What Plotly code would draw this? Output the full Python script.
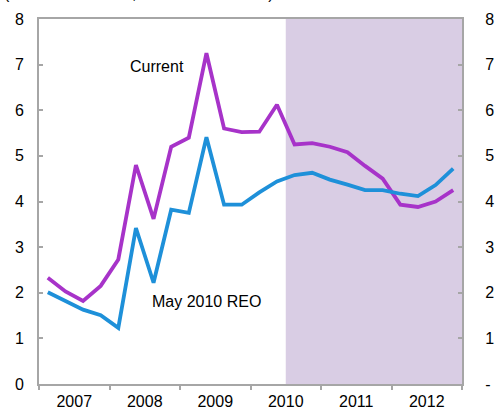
import plotly.graph_objects as go

quarters = [f"{y}Q{q}" for y in range(2007, 2013) for q in range(1, 5)]
years = ["2007", "2008", "2009", "2010", "2011", "2012"]
current = [2.33, 2.03, 1.82, 2.15, 2.73, 4.8, 3.62, 5.2, 5.4, 7.25, 5.6, 5.52,
           5.53, 6.12, 5.25, 5.28, 5.2, 5.08, 4.78, 4.5, 3.93, 3.88, 4.0, 4.25]
reo = [2.01, 1.83, 1.63, 1.51, 1.23, 3.42, 2.22, 3.82, 3.75, 5.41, 3.93, 3.93,
       4.2, 4.44, 4.58, 4.63, 4.48, 4.37, 4.25, 4.25, 4.17, 4.12, 4.36, 4.72]
ytick_vals = [0, 1, 2, 3, 4, 5, 6, 7, 8]
right_labels = ["-", "1", "2", "3", "4", "5", "6", "7", "8"]

x = list(range(len(quarters)))
FONT = "Liberation Sans, Arial, sans-serif"
AX = "#A6A6A6"

fig = go.Figure()
fig.add_trace(go.Scatter(x=x, y=current, mode="lines", name="Current",
                         line=dict(color="#A733C9", width=3.8), hovertext=quarters))
fig.add_trace(go.Scatter(x=x, y=reo, mode="lines", name="May 2010 REO",
                         line=dict(color="#1E90D9", width=3.8), hovertext=quarters))
fig.add_trace(go.Scatter(x=[0], y=[0], yaxis="y2", mode="lines", showlegend=False,
                         line=dict(width=0), hoverinfo="skip", opacity=0))

fig.add_shape(type="rect", xref="x", yref="paper", x0=13.5, x1=23.5, y0=0, y1=1,
              fillcolor="#D9CDE4", line=dict(width=0), layer="below")

fig.update_layout(
    width=495, height=409,
    margin=dict(l=39, r=33, t=19, b=25, autoexpand=False),
    paper_bgcolor="white", plot_bgcolor="white",
    showlegend=False,
    font=dict(family=FONT, size=16, color="black"),
    xaxis=dict(range=[-0.5, 23.5], tickvals=[1.5, 5.5, 9.5, 13.5, 17.5, 21.5],
               ticktext=years, ticks="", showgrid=False, zeroline=False,
               showline=True, linecolor=AX, linewidth=2, mirror=True,
               automargin=False,
               minor=dict(tick0=-0.5, dtick=4, ticks="outside", ticklen=4,
                          tickcolor=AX, tickwidth=2, showgrid=False),
               tickfont=dict(size=16), ticklabelstandoff=2),
    yaxis=dict(range=[0, 8], tickvals=ytick_vals, ticks="inside", ticklen=4,
               tickcolor=AX, tickwidth=2, showgrid=False, zeroline=False,
               showline=True, linecolor=AX, linewidth=2, automargin=False,
               tickfont=dict(size=16), ticklabelstandoff=10),
    yaxis2=dict(range=[0, 8], overlaying="y", side="right", tickvals=ytick_vals,
                ticktext=right_labels, ticks="inside", ticklen=4, tickcolor=AX,
                tickwidth=2, showgrid=False, zeroline=False, showline=True,
                linecolor=AX, linewidth=2, tickfont=dict(size=16),
                automargin=False, ticklabelstandoff=18),
    annotations=[
        dict(text="Current", x=6.2, y=6.95, xref="x", yref="y", showarrow=False,
             font=dict(size=16)),
        dict(text="May 2010 REO", x=9.0, y=1.8, xref="x", yref="y", showarrow=False,
             font=dict(size=16)),
        dict(text="(Headline inflation, twelve-month rate)", x=0, y=1, xref="paper",
             yref="paper", xanchor="left", yanchor="bottom", xshift=-37, yshift=15,
             showarrow=False, font=dict(size=16)),
    ],
)

fig.write_html("out.html", config={"displayModeBar": False},
               post_script="document.body.style.margin='0';document.body.style.overflow='hidden';")
